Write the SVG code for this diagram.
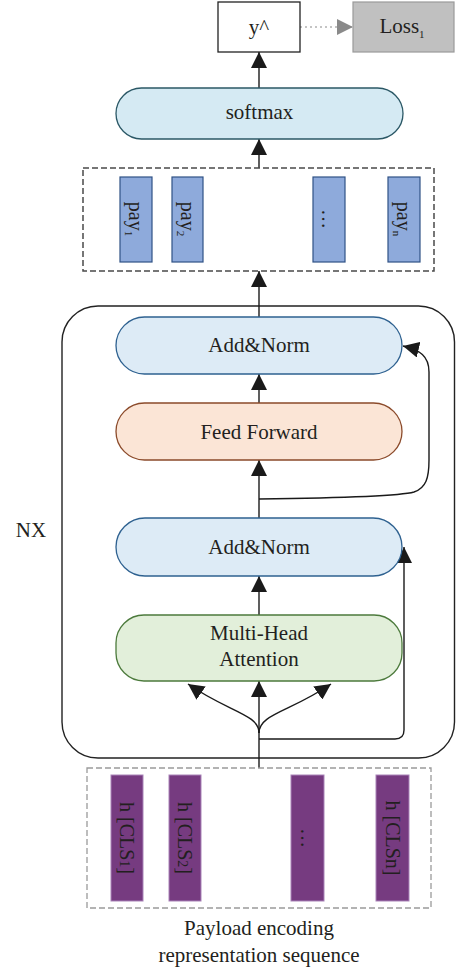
<svg xmlns="http://www.w3.org/2000/svg" width="456" height="973" viewBox="0 0 456 973">
  <style>
    text { font-family: "Liberation Serif", "Times New Roman", serif; fill: #231f20; }
    .lbl { font-size: 21px; text-anchor: middle; }
    .vlbl { font-size: 20px; text-anchor: middle; }
    .conn { fill: none; stroke: #1a1a1a; stroke-width: 1.4; }
    .pay { fill: #8eaadb; stroke: #2f5285; stroke-width: 1.2; }
    .cls { fill: #763b80; stroke: #a983b8; stroke-width: 1; }
    .norm { fill: #ddebf6; stroke: #2e6190; stroke-width: 1.3; }
  </style>
  <defs>
    <marker id="arrow" viewBox="0 0 16 16" refX="16" refY="8" markerWidth="16" markerHeight="16" markerUnits="userSpaceOnUse" orient="auto">
      <path d="M0,0 L16,8 L0,16 z" fill="#1a1a1a"/>
    </marker>
    <marker id="arrowGray" viewBox="0 0 16 16" refX="16" refY="8" markerWidth="16" markerHeight="16" markerUnits="userSpaceOnUse" orient="auto">
      <path d="M0,0 L16,8 L0,16 z" fill="#8a8a8a"/>
    </marker>
  </defs>

  <!-- encoder block container -->
  <g id="encoder-block">
    <rect x="62" y="306" width="392.5" height="452" rx="36" fill="none" stroke="#222" stroke-width="1.4"/>
    <text x="31" y="537" class="lbl">NX</text>
  </g>

  <!-- connectors -->
  <g id="connectors">
    <path class="conn" d="M259,88 L259,52" marker-end="url(#arrow)"/>
    <path d="M300,27 L353,27" fill="none" stroke="#8a8a8a" stroke-width="1.2" stroke-dasharray="2 3" marker-end="url(#arrowGray)"/>
    <path class="conn" d="M259,168 L259,139" marker-end="url(#arrow)"/>
    <path class="conn" d="M259,317 L259,271" marker-end="url(#arrow)"/>
    <path class="conn" d="M259,403 L259,374" marker-end="url(#arrow)"/>
    <path class="conn" d="M259,518 L259,460" marker-end="url(#arrow)"/>
    <path class="conn" d="M259,499 C340,498 400,496 414,492 C426,488 429,478 429,460 L429,372 C429,356 420,350 403,346" marker-end="url(#arrow)"/>
    <path class="conn" d="M259,615 L259,576" marker-end="url(#arrow)"/>
    <path class="conn" d="M259,739 L395,739 Q404,739 404,730 L404,547" marker-end="url(#arrow)"/>
    <path class="conn" d="M259,768 L259,681" marker-end="url(#arrow)"/>
    <path class="conn" d="M259,733 C259,714 228,712 188,684" marker-end="url(#arrow)"/>
    <path class="conn" d="M259,733 C259,714 290,712 331,684" marker-end="url(#arrow)"/>
  </g>

  <!-- output -->
  <g id="y-hat">
    <rect x="218" y="2" width="82" height="50" fill="#ffffff" stroke="#222" stroke-width="1.3"/>
    <text x="259" y="34" class="lbl">y^</text>
  </g>
  <g id="loss">
    <rect x="353" y="2" width="101" height="50" fill="#c0c0c0" stroke="#9a9a9a" stroke-width="1.2"/>
    <text x="402" y="33" class="lbl">Loss<tspan font-size="11" dy="5">1</tspan></text>
  </g>

  <g id="softmax">
    <rect x="116" y="88" width="287" height="51" rx="25.5" fill="#d5eaf3" stroke="#2b5866" stroke-width="1.3"/>
    <text x="259.5" y="119" class="lbl" font-size="20">softmax</text>
  </g>

  <!-- payload vectors -->
  <g id="payload-vectors">
    <rect x="83" y="168" width="351" height="103" fill="none" stroke="#4a4a4a" stroke-width="1.5" stroke-dasharray="6 3"/>
    <g id="pay1">
      <rect class="pay" x="120" y="177" width="32" height="85"/>
      <text class="vlbl" transform="translate(129,219) rotate(90)">pay<tspan font-size="11" dy="4">1</tspan></text>
    </g>
    <g id="pay2">
      <rect class="pay" x="172" y="177" width="31" height="85"/>
      <text class="vlbl" transform="translate(180.5,219) rotate(90)">pay<tspan font-size="11" dy="4">2</tspan></text>
    </g>
    <g id="pay-more">
      <rect class="pay" x="313" y="177" width="32" height="85"/>
      <text class="vlbl" transform="translate(322,219) rotate(90)">…</text>
    </g>
    <g id="payn">
      <rect class="pay" x="388" y="177" width="32" height="85"/>
      <text class="vlbl" transform="translate(397,219) rotate(90)">pay<tspan font-size="11" dy="4">n</tspan></text>
    </g>
  </g>

  <g id="add-norm-2">
    <rect class="norm" x="116" y="317" width="286" height="57" rx="28.5"/>
    <text x="259" y="352" class="lbl">Add&amp;Norm</text>
  </g>

  <g id="feed-forward">
    <rect x="116" y="403" width="286" height="57" rx="28.5" fill="#fbe5d6" stroke="#8b4a2a" stroke-width="1.3"/>
    <text x="259" y="439" class="lbl">Feed Forward</text>
  </g>

  <g id="add-norm-1">
    <rect class="norm" x="116" y="518" width="286" height="58" rx="29"/>
    <text x="259" y="554" class="lbl">Add&amp;Norm</text>
  </g>

  <g id="multi-head-attention">
    <rect x="116" y="615" width="286" height="66" rx="28" fill="#e2efda" stroke="#4c7a3c" stroke-width="1.3"/>
    <text x="259" y="640" class="lbl">Multi-Head</text>
    <text x="259" y="666" class="lbl">Attention</text>
  </g>

  <!-- input sequence -->
  <g id="input-sequence">
    <rect x="87" y="768" width="344" height="140" fill="none" stroke="#9a9a9a" stroke-width="1.3" stroke-dasharray="6 3"/>
    <g id="cls1">
      <rect class="cls" x="111" y="775" width="32" height="126"/>
      <text class="vlbl" transform="translate(120,838) rotate(90)">h [CLS<tspan font-size="14">1</tspan>]</text>
    </g>
    <g id="cls2">
      <rect class="cls" x="169" y="775" width="32" height="126"/>
      <text class="vlbl" transform="translate(178,838) rotate(90)">h [CLS<tspan font-size="14">2</tspan>]</text>
    </g>
    <g id="cls-more">
      <rect class="cls" x="291" y="775" width="33" height="126"/>
      <text class="vlbl" transform="translate(300.5,838) rotate(90)">…</text>
    </g>
    <g id="clsn">
      <rect class="cls" x="376" y="775" width="33" height="126"/>
      <text class="vlbl" transform="translate(385.5,838) rotate(90)">h [CLSn]</text>
    </g>
    <text x="259" y="935" class="lbl" font-size="22">Payload encoding</text>
    <text x="259" y="962" class="lbl" font-size="22">representation sequence</text>
  </g>
</svg>
